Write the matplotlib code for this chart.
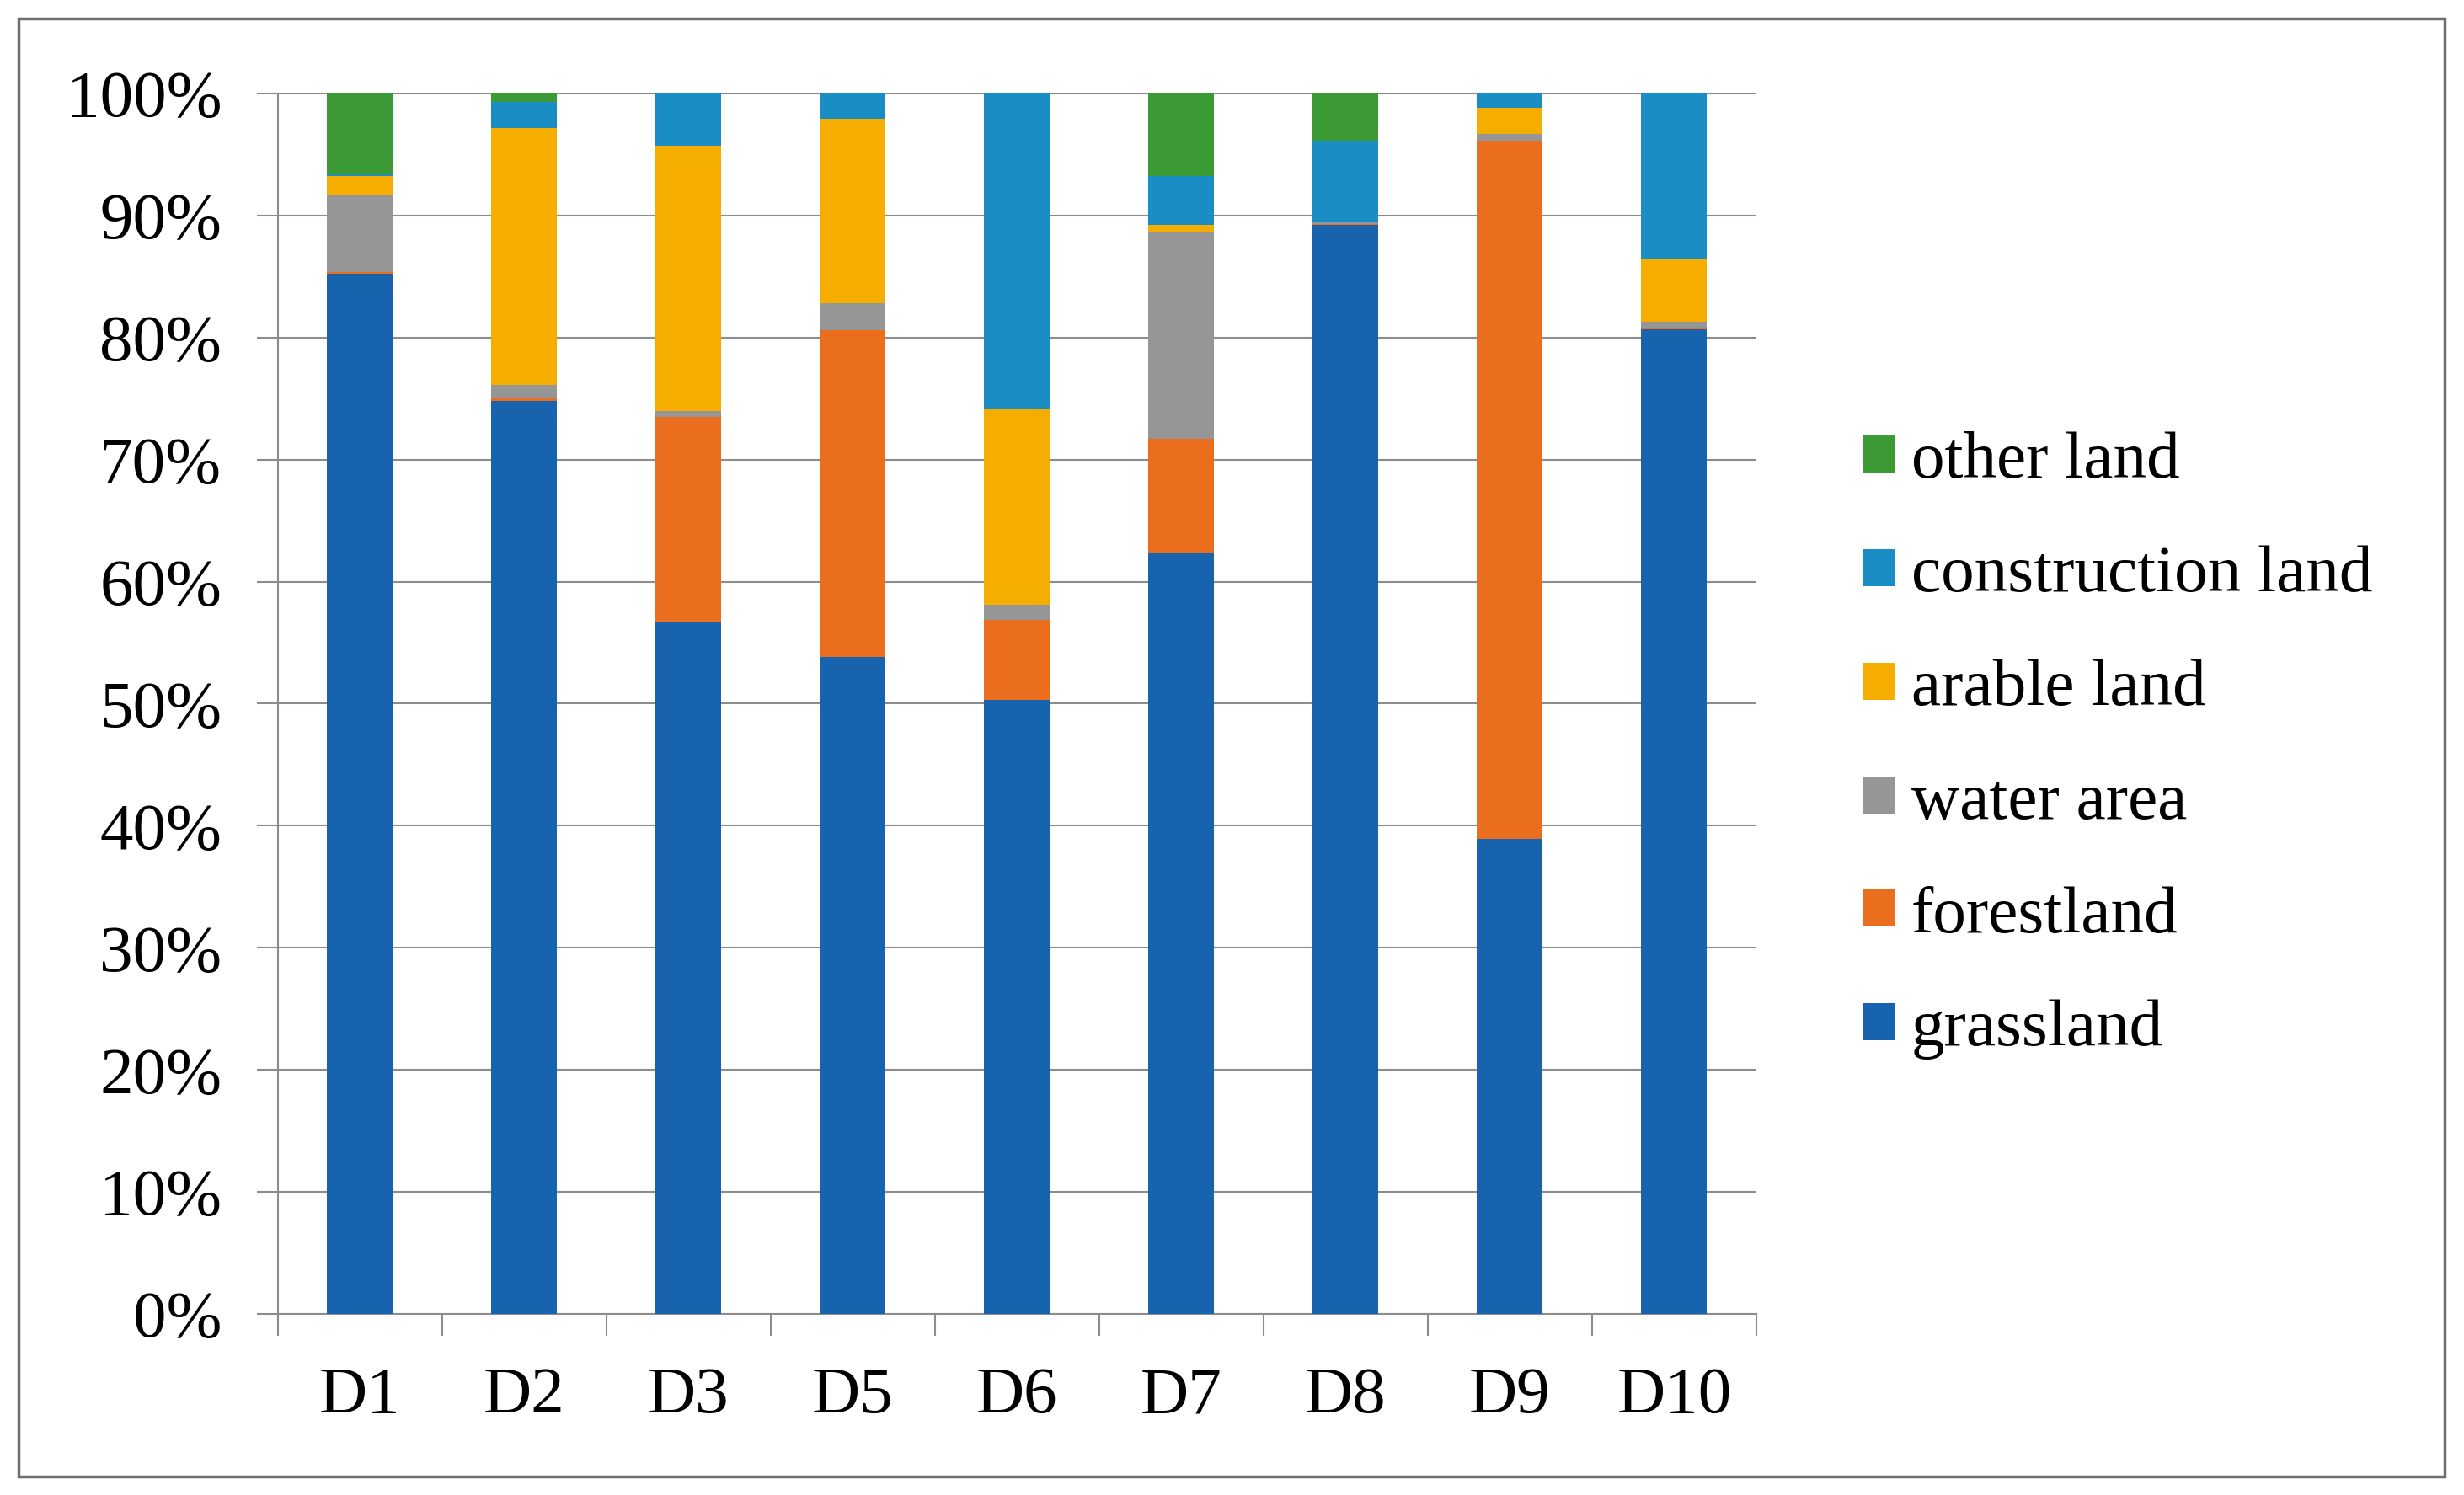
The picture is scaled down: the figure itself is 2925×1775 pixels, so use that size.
import numpy as np
import matplotlib
matplotlib.use("Agg")
import matplotlib.pyplot as plt
from matplotlib.ticker import PercentFormatter
from matplotlib.patches import Rectangle

districts = ["D1", "D2", "D3", "D5", "D6", "D7", "D8", "D9", "D10"]

# land use shares in percent, bottom of the stack first
grassland = [85.2, 74.8, 56.7, 53.8, 50.3, 62.3, 89.2, 38.9, 80.7]
forestland = [0.2, 0.3, 16.8, 26.8, 6.6, 9.4, 0.1, 57.2, 0.1]
water_area = [6.3, 1.0, 0.5, 2.2, 1.2, 16.9, 0.2, 0.6, 0.5]
arable_land = [1.5, 21.1, 21.7, 15.1, 16.0, 0.6, 0.0, 2.1, 5.2]
construction_land = [0.2, 2.1, 4.3, 2.1, 25.9, 4.0, 6.6, 1.2, 13.5]
other_land = [6.6, 0.7, 0.0, 0.0, 0.0, 6.8, 3.9, 0.0, 0.0]

series = [("grassland", grassland, "#1763ad"),
          ("forestland", forestland, "#eb6d1e"),
          ("water area", water_area, "#969696"),
          ("arable land", arable_land, "#f5ad00"),
          ("construction land", construction_land, "#1a8dc5"),
          ("other land", other_land, "#3c9a35")]

plt.rcParams['font.family'] = ['Liberation Serif', 'DejaVu Serif']
fs = 57

fig = plt.figure(figsize=(29.25, 17.75), dpi=100)
ax = fig.add_axes([0.1128, 0.1211, 0.60, 0.8164])

x = np.arange(len(districts))
bottom = np.zeros(len(districts))
for name, vals, col in series:
    vals = np.array(vals)
    ax.bar(x, vals, 0.4, bottom=bottom, color=col, label=name, zorder=3)
    bottom += vals

ax.set_xlim(-0.5, len(districts) - 0.5)
ax.set_ylim(0, 100)
ax.set_yticks(np.arange(0, 101, 10))
ax.yaxis.set_major_formatter(PercentFormatter(decimals=0))
ax.grid(axis="y", color="#8c8c8c", linewidth=1.5, zorder=0)

# x ticks sit on category boundaries, labels in the middle
ax.set_xticks(np.arange(-0.5, len(districts), 1.0))
ax.set_xticklabels([])
ax.set_xticks(x, minor=True)
ax.set_xticklabels(districts, minor=True)
ax.tick_params(axis="x", which="major", length=19, width=1.5, color="#8c8c8c", direction="out")
ax.tick_params(axis="x", which="minor", length=0, pad=45, labelsize=fs)
ax.tick_params(axis="y", length=18, width=1.5, color="#8c8c8c", pad=30, labelsize=fs)

for s in ["top", "right"]:
    ax.spines[s].set_visible(False)
for s in ["left", "bottom"]:
    ax.spines[s].set_color("#8c8c8c")
    ax.spines[s].set_linewidth(1.5)

handles, labels = ax.get_legend_handles_labels()
leg = fig.legend(handles[::-1], labels[::-1], loc="center left",
                 bbox_to_anchor=(0.7559, 0.5011), frameon=False, fontsize=fs,
                 handlelength=0.48, handleheight=0.48, handletextpad=0.25,
                 labelspacing=0.80, borderpad=0, borderaxespad=0)

# thin frame around the whole picture
fig.patches.append(Rectangle((0.0075, 0.0124), 0.9845, 0.9752, transform=fig.transFigure,
                             fill=False, edgecolor="#6e6e6e", linewidth=2.5))

fig.savefig("out.png", dpi=100)
